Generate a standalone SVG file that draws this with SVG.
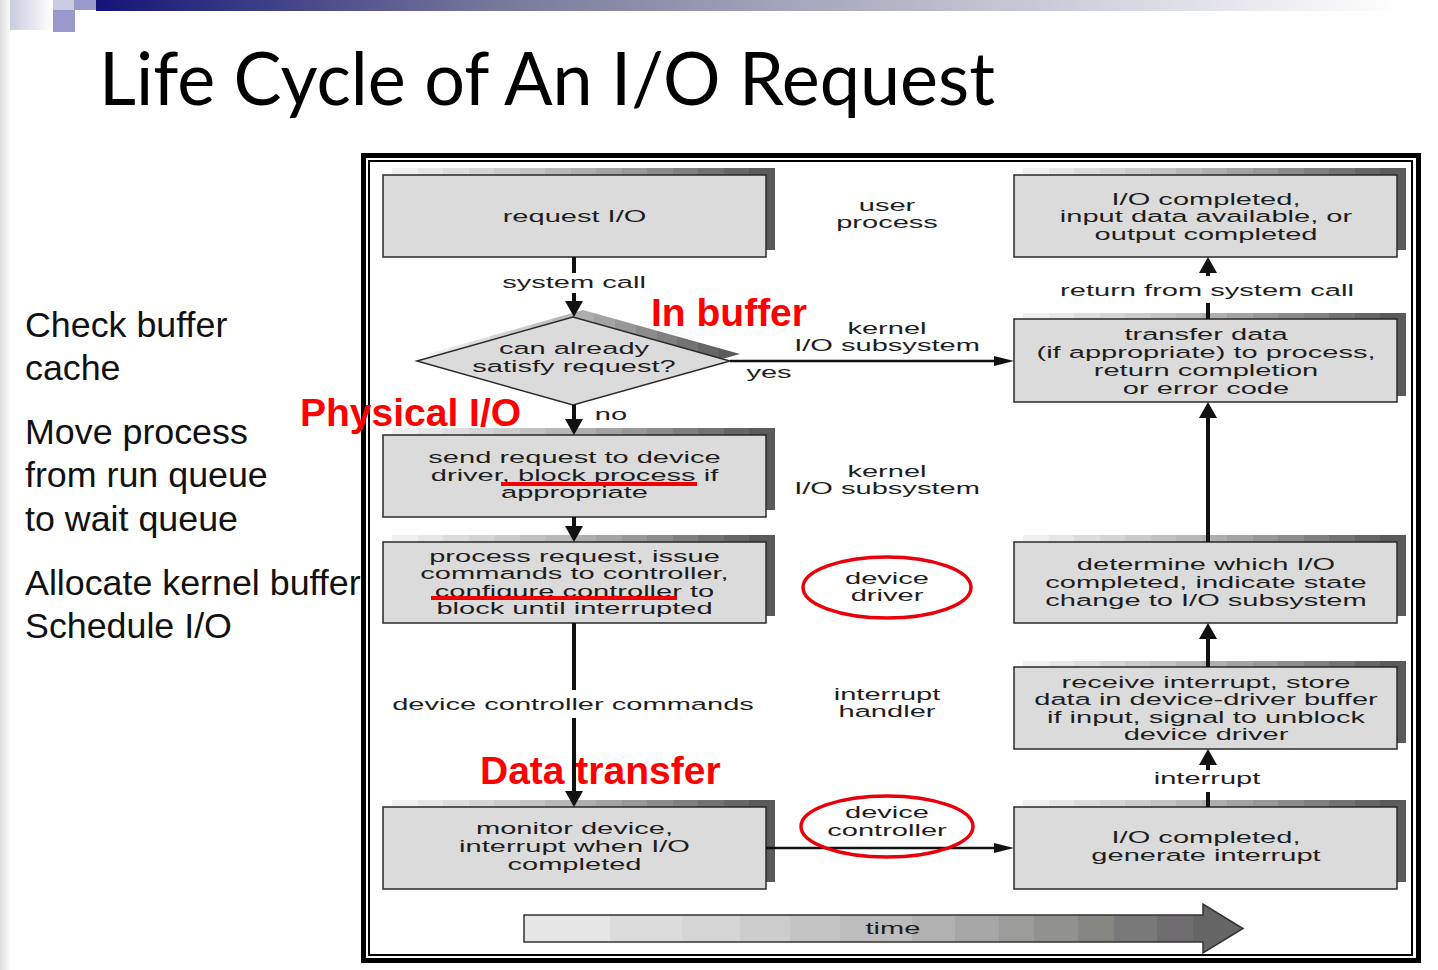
<svg xmlns="http://www.w3.org/2000/svg" width="1438" height="970" viewBox="0 0 1438 970">
  <style>
    .box { fill: #dcdbdc; stroke: #2a2a2a; stroke-width: 1.5; }
    .shade { fill: url(#shade); }
    .t { font-family: "Liberation Sans", Arial, sans-serif; font-size: 17px; fill: #1e1e1e; text-anchor: middle; }
    .note { font-family: "Liberation Sans", Arial, sans-serif; font-size: 35.8px; fill: #111; }
    .red { font-family: "Liberation Sans", Arial, sans-serif; font-size: 39px; font-weight: bold; fill: #ff0000; }
    .vline { stroke: #111; stroke-width: 4; fill: none; }
    .hline { stroke: #111; stroke-width: 2.5; fill: none; }
    .circ { fill: none; stroke: #e8000b; stroke-width: 3.5; }
    .uline { stroke: #f00000; stroke-width: 4; }
  </style>
  <defs>
    <!-- stepped grey ramp used for the drop shadows -->
    <linearGradient id="shade" x1="0" y1="0" x2="1" y2="0">
      <stop offset="0" stop-color="#efefef"/><stop offset="0.0667" stop-color="#efefef"/>
      <stop offset="0.0667" stop-color="#e6e6e6"/><stop offset="0.1333" stop-color="#e6e6e6"/>
      <stop offset="0.1333" stop-color="#dddddd"/><stop offset="0.2" stop-color="#dddddd"/>
      <stop offset="0.2" stop-color="#d4d4d4"/><stop offset="0.2667" stop-color="#d4d4d4"/>
      <stop offset="0.2667" stop-color="#cbcbcb"/><stop offset="0.3333" stop-color="#cbcbcb"/>
      <stop offset="0.3333" stop-color="#c2c2c2"/><stop offset="0.4" stop-color="#c2c2c2"/>
      <stop offset="0.4" stop-color="#b8b8b8"/><stop offset="0.4667" stop-color="#b8b8b8"/>
      <stop offset="0.4667" stop-color="#aeaeae"/><stop offset="0.5333" stop-color="#aeaeae"/>
      <stop offset="0.5333" stop-color="#a3a3a3"/><stop offset="0.6" stop-color="#a3a3a3"/>
      <stop offset="0.6" stop-color="#989898"/><stop offset="0.6667" stop-color="#989898"/>
      <stop offset="0.6667" stop-color="#8c8c8c"/><stop offset="0.7333" stop-color="#8c8c8c"/>
      <stop offset="0.7333" stop-color="#808080"/><stop offset="0.8" stop-color="#808080"/>
      <stop offset="0.8" stop-color="#737373"/><stop offset="0.8667" stop-color="#737373"/>
      <stop offset="0.8667" stop-color="#666666"/><stop offset="0.9333" stop-color="#666666"/>
      <stop offset="0.9333" stop-color="#5a5a5a"/><stop offset="1" stop-color="#5a5a5a"/>
    </linearGradient>
    <!-- time arrow ramp -->
    <linearGradient id="timeRamp" gradientUnits="userSpaceOnUse" x1="524" y1="0" x2="1243" y2="0">
      <stop offset="0" stop-color="#e6e6e6"/><stop offset="0.12" stop-color="#e6e6e6"/>
      <stop offset="0.12" stop-color="#dcdcdc"/><stop offset="0.22" stop-color="#dcdcdc"/>
      <stop offset="0.22" stop-color="#d5d5d5"/><stop offset="0.3" stop-color="#d5d5d5"/>
      <stop offset="0.3" stop-color="#cdcdcd"/><stop offset="0.37" stop-color="#cdcdcd"/>
      <stop offset="0.37" stop-color="#c4c4c4"/><stop offset="0.44" stop-color="#c4c4c4"/>
      <stop offset="0.44" stop-color="#bcbcbc"/><stop offset="0.54" stop-color="#bcbcbc"/>
      <stop offset="0.54" stop-color="#b1b1b1"/><stop offset="0.6" stop-color="#b1b1b1"/>
      <stop offset="0.6" stop-color="#a6a6a6"/><stop offset="0.66" stop-color="#a6a6a6"/>
      <stop offset="0.66" stop-color="#9b9c9a"/><stop offset="0.71" stop-color="#9b9c9a"/>
      <stop offset="0.71" stop-color="#91928f"/><stop offset="0.77" stop-color="#91928f"/>
      <stop offset="0.77" stop-color="#868783"/><stop offset="0.82" stop-color="#868783"/>
      <stop offset="0.82" stop-color="#7a797a"/><stop offset="0.88" stop-color="#7a797a"/>
      <stop offset="0.88" stop-color="#6f6d6f"/><stop offset="0.93" stop-color="#6f6d6f"/>
      <stop offset="0.93" stop-color="#666566"/><stop offset="1" stop-color="#666566"/>
    </linearGradient>
    <linearGradient id="topBar" gradientUnits="userSpaceOnUse" x1="96" y1="0" x2="1400" y2="0">
      <stop offset="0" stop-color="#141478"/>
      <stop offset="0.3" stop-color="#76769a"/>
      <stop offset="0.65" stop-color="#bcbccc"/>
      <stop offset="1" stop-color="#ffffff"/>
    </linearGradient>
    <linearGradient id="lilac" x1="0" y1="0" x2="1" y2="0">
      <stop offset="0" stop-color="#cbcbe2"/>
      <stop offset="1" stop-color="#ffffff"/>
    </linearGradient>
    <linearGradient id="edge" x1="0" y1="0" x2="1" y2="0">
      <stop offset="0" stop-color="#dcdcdc"/>
      <stop offset="1" stop-color="#fbfbfb"/>
    </linearGradient>
    <marker id="headV" markerUnits="userSpaceOnUse" markerWidth="16" markerHeight="18" viewBox="0 0 16 18" refX="6" refY="9" orient="auto">
      <path d="M0,0 L16,9 L0,18 Z" fill="#111"/>
    </marker>
    <marker id="headH" markerUnits="userSpaceOnUse" markerWidth="20" markerHeight="10" viewBox="0 0 20 10" refX="10" refY="5" orient="auto">
      <path d="M0,0 L20,5 L0,10 Z" fill="#111"/>
    </marker>
  </defs>

  <rect width="1438" height="970" fill="#ffffff"/>

  <!-- slide chrome -->
  <g id="chrome">
    <rect x="0" y="0" width="10" height="970" fill="url(#edge)"/>
    <rect x="10" y="0" width="43" height="30" fill="url(#lilac)"/>
    <rect x="53" y="0" width="21" height="10" fill="#cbcbe4"/>
    <rect x="74" y="0" width="22" height="10" fill="#9999cc"/>
    <rect x="53" y="10" width="22" height="22" fill="#9999cc"/>
    <rect x="96" y="0" width="1342" height="11" fill="url(#topBar)"/>
  </g>

  <text id="title" x="99" y="105" font-family="Lato, 'Open Sans', sans-serif" font-size="74" fill="#000" textLength="896" lengthAdjust="spacingAndGlyphs">Life Cycle of An I/O Request</text>

  <g id="notes">
    <text class="note" x="25" y="337">Check buffer</text>
    <text class="note" x="25" y="380">cache</text>
    <text class="note" x="25" y="444">Move process</text>
    <text class="note" x="25" y="487">from run queue</text>
    <text class="note" x="25" y="531">to wait queue</text>
    <text class="note" x="25" y="595">Allocate kernel buffer</text>
    <text class="note" x="25" y="638">Schedule I/O</text>
  </g>

  <!-- double frame around the flow chart -->
  <g id="frame">
    <rect x="363.5" y="155.5" width="1055" height="805" fill="#ffffff" stroke="#000" stroke-width="5"/>
    <rect x="369" y="161" width="1043" height="794" fill="none" stroke="#000" stroke-width="2"/>
  </g>

  <!-- left column -->
  <g id="request-io">
    <rect class="shade" x="392" y="168" width="383" height="82"/>
    <rect class="box" x="383" y="175" width="383" height="82"/>
    <text class="t" transform="matrix(1.71 0 0 1 574.5 222)">request I/O</text>
  </g>
  <g id="can-satisfy">
    <polygon class="shade" points="427,354 583,310 740,354 583,398"/>
    <polygon class="box" points="417,361 573,317 730,361 573,405"/>
    <text class="t" transform="matrix(1.71 0 0 1 574 354)">can already</text>
    <text class="t" transform="matrix(1.71 0 0 1 574 372)">satisfy request?</text>
  </g>
  <g id="send-request">
    <rect class="shade" x="392" y="428" width="383" height="82"/>
    <rect class="box" x="383" y="435" width="383" height="82"/>
    <text class="t" transform="matrix(1.71 0 0 1 574.5 463)">send request to device</text>
    <text class="t" transform="matrix(1.71 0 0 1 574.5 481)">driver, block process if</text>
    <text class="t" transform="matrix(1.71 0 0 1 574.5 498)">appropriate</text>
  </g>
  <g id="process-request">
    <rect class="shade" x="392" y="535" width="383" height="81"/>
    <rect class="box" x="383" y="542" width="383" height="81"/>
    <text class="t" transform="matrix(1.71 0 0 1 574.5 562)">process request, issue</text>
    <text class="t" transform="matrix(1.71 0 0 1 574.5 579)">commands to controller,</text>
    <text class="t" transform="matrix(1.71 0 0 1 574.5 597)">configure controller to</text>
    <text class="t" transform="matrix(1.71 0 0 1 574.5 614)">block until interrupted</text>
  </g>
  <g id="monitor-device">
    <rect class="shade" x="392" y="800" width="383" height="82"/>
    <rect class="box" x="383" y="807" width="383" height="82"/>
    <text class="t" transform="matrix(1.71 0 0 1 574.5 834)">monitor device,</text>
    <text class="t" transform="matrix(1.71 0 0 1 574.5 852)">interrupt when I/O</text>
    <text class="t" transform="matrix(1.71 0 0 1 574.5 870)">completed</text>
  </g>

  <!-- right column -->
  <g id="io-completed">
    <rect class="shade" x="1023" y="168" width="383" height="82"/>
    <rect class="box" x="1014" y="175" width="383" height="82"/>
    <text class="t" transform="matrix(1.71 0 0 1 1206 205)">I/O completed,</text>
    <text class="t" transform="matrix(1.71 0 0 1 1206 222)">input data available, or</text>
    <text class="t" transform="matrix(1.71 0 0 1 1206 240)">output completed</text>
  </g>
  <g id="transfer-data">
    <rect class="shade" x="1023" y="313" width="383" height="83"/>
    <rect class="box" x="1014" y="319" width="383" height="83"/>
    <text class="t" transform="matrix(1.71 0 0 1 1206 340)">transfer data</text>
    <text class="t" transform="matrix(1.71 0 0 1 1206 358)">(if appropriate) to process,</text>
    <text class="t" transform="matrix(1.71 0 0 1 1206 376)">return completion</text>
    <text class="t" transform="matrix(1.71 0 0 1 1206 394)">or error code</text>
  </g>
  <g id="determine-io">
    <rect class="shade" x="1023" y="535" width="383" height="81"/>
    <rect class="box" x="1014" y="542" width="383" height="81"/>
    <text class="t" transform="matrix(1.71 0 0 1 1206 570)">determine which I/O</text>
    <text class="t" transform="matrix(1.71 0 0 1 1206 588)">completed, indicate state</text>
    <text class="t" transform="matrix(1.71 0 0 1 1206 606)">change to I/O subsystem</text>
  </g>
  <g id="receive-interrupt">
    <rect class="shade" x="1023" y="661" width="383" height="82"/>
    <rect class="box" x="1014" y="667" width="383" height="82"/>
    <text class="t" transform="matrix(1.71 0 0 1 1206 688)">receive interrupt, store</text>
    <text class="t" transform="matrix(1.71 0 0 1 1206 705)">data in device-driver buffer</text>
    <text class="t" transform="matrix(1.71 0 0 1 1206 723)">if input, signal to unblock</text>
    <text class="t" transform="matrix(1.71 0 0 1 1206 740)">device driver</text>
  </g>
  <g id="generate-interrupt">
    <rect class="shade" x="1023" y="800" width="383" height="82"/>
    <rect class="box" x="1014" y="807" width="383" height="82"/>
    <text class="t" transform="matrix(1.71 0 0 1 1206 843)">I/O completed,</text>
    <text class="t" transform="matrix(1.71 0 0 1 1206 861)">generate interrupt</text>
  </g>

  <!-- layer labels in the middle column -->
  <g id="layers">
    <text class="t" transform="matrix(1.71 0 0 1 887 211)">user</text>
    <text class="t" transform="matrix(1.71 0 0 1 887 228)">process</text>
    <text class="t" transform="matrix(1.71 0 0 1 887 334)">kernel</text>
    <text class="t" transform="matrix(1.71 0 0 1 887 351)">I/O subsystem</text>
    <text class="t" transform="matrix(1.71 0 0 1 887 477)">kernel</text>
    <text class="t" transform="matrix(1.71 0 0 1 887 494)">I/O subsystem</text>
    <text class="t" transform="matrix(1.71 0 0 1 887 584)">device</text>
    <text class="t" transform="matrix(1.71 0 0 1 887 601)">driver</text>
    <text class="t" transform="matrix(1.71 0 0 1 887 700)">interrupt</text>
    <text class="t" transform="matrix(1.71 0 0 1 887 717)">handler</text>
    <text class="t" transform="matrix(1.71 0 0 1 887 818)">device</text>
    <text class="t" transform="matrix(1.71 0 0 1 887 836)">controller</text>
  </g>

  <g id="connectors">
    <line class="vline" x1="574" y1="257" x2="574" y2="273"/>
    <line class="vline" x1="574" y1="293" x2="574" y2="307" marker-end="url(#headV)"/>
    <text class="t" transform="matrix(1.71 0 0 1 574 288)">system call</text>

    <line class="vline" x1="574" y1="405" x2="574" y2="425" marker-end="url(#headV)"/>
    <text class="t" transform="matrix(1.71 0 0 1 611 420)">no</text>

    <line class="hline" x1="730" y1="361" x2="1004" y2="361" marker-end="url(#headH)"/>
    <text class="t" transform="matrix(1.71 0 0 1 769 378)">yes</text>

    <line class="vline" x1="574" y1="517" x2="574" y2="532" marker-end="url(#headV)"/>

    <line class="vline" x1="574" y1="623" x2="574" y2="690"/>
    <line class="vline" x1="574" y1="718" x2="574" y2="797" marker-end="url(#headV)"/>
    <text class="t" transform="matrix(1.71 0 0 1 573 710)">device controller commands</text>

    <line class="hline" x1="766" y1="848" x2="1004" y2="848" marker-end="url(#headH)"/>

    <line class="vline" x1="1208" y1="807" x2="1208" y2="792"/>
    <line class="vline" x1="1208" y1="770" x2="1208" y2="759" marker-end="url(#headV)"/>
    <text class="t" transform="matrix(1.71 0 0 1 1207 784)">interrupt</text>

    <line class="vline" x1="1208" y1="667" x2="1208" y2="633" marker-end="url(#headV)"/>
    <line class="vline" x1="1208" y1="542" x2="1208" y2="412" marker-end="url(#headV)"/>

    <line class="vline" x1="1208" y1="319" x2="1208" y2="303"/>
    <line class="vline" x1="1208" y1="276" x2="1208" y2="267" marker-end="url(#headV)"/>
    <text class="t" transform="matrix(1.71 0 0 1 1207 296)">return from system call</text>
  </g>

  <g id="time-axis">
    <path d="M524,915 H1203 V904 L1243,928.5 L1203,953 V942 H524 Z" fill="url(#timeRamp)" stroke="#333" stroke-width="1.5"/>
    <text class="t" transform="matrix(1.71 0 0 1 893 934)">time</text>
  </g>

  <!-- red highlights -->
  <g id="highlights">
    <ellipse class="circ" cx="887" cy="587.5" rx="84" ry="30.5"/>
    <ellipse class="circ" cx="887" cy="826.5" rx="86" ry="30.5"/>
    <line class="uline" x1="501" y1="484" x2="697" y2="484"/>
    <line class="uline" x1="431" y1="598" x2="677" y2="598"/>
    <text class="red" x="651" y="326">In buffer</text>
    <text class="red" x="300" y="426">Physical I/O</text>
    <text class="red" x="480" y="784">Data transfer</text>
  </g>
</svg>
